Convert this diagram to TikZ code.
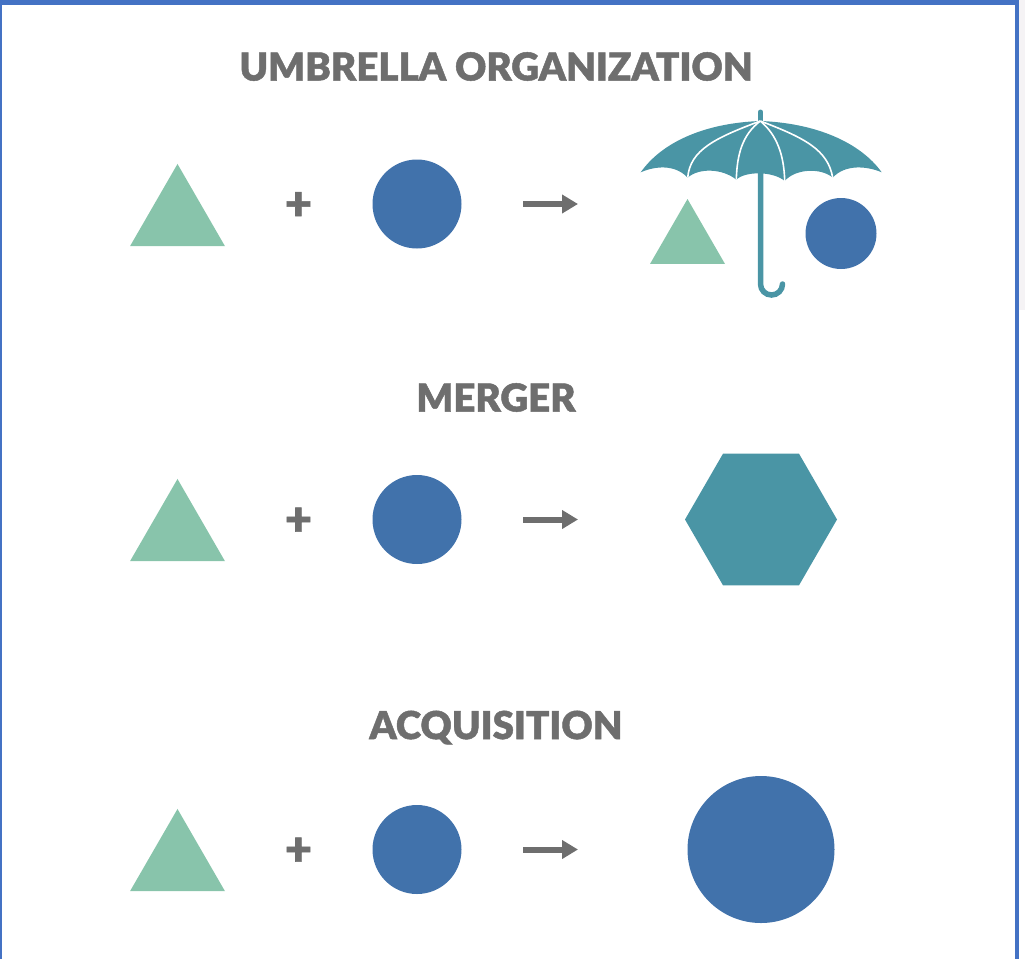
\documentclass[tikz,border=0pt]{standalone}
\usepackage{fontspec}
\setmainfont{Lato Black}[FakeBold=1.2]
\usetikzlibrary{shapes.geometric,arrows.meta}
\definecolor{triColor}{HTML}{88C4AB}
\definecolor{circColor}{HTML}{4172AB}
\definecolor{tealColor}{HTML}{4A95A5}
\definecolor{greyColor}{HTML}{6E6E6E}
\definecolor{frameColor}{HTML}{4472C4}
\definecolor{sideColor}{HTML}{F5F3F5}
\begin{document}
\begin{tikzpicture}[x=1pt,y=-1pt]
            \tikzstyle{tri}=[regular polygon,regular polygon sides=3,fill=triColor,inner sep=0pt,outer sep=0pt,minimum size=109.7pt]
            \tikzstyle{smalltri}=[tri,minimum size=86.6pt]
            \tikzstyle{circ}=[circle,fill=circColor,inner sep=0pt,outer sep=0pt,minimum size=89pt]
            \tikzstyle{hexa}=[regular polygon,regular polygon sides=6,fill=tealColor,inner sep=0pt,outer sep=0pt,minimum size=152pt]
            \tikzstyle{heading}=[text=greyColor,font=\fontsize{38.5}{38.5}\selectfont,inner sep=0pt]
            \tikzstyle{plus}=[text=greyColor,font=\fontsize{47}{47}\selectfont,inner sep=0pt]
            \tikzstyle{link}=[draw=greyColor,line width=6pt,-{Triangle[length=16pt,width=18pt]}]
            \useasboundingbox (0,0) rectangle (1025,959);
            % frame
            \fill[sideColor] (1019,0) rectangle (1025,310);
            \fill[frameColor] (0,0) rectangle (1019,5);
            \fill[frameColor] (0,0) rectangle (1.5,959);
            \fill[frameColor] (1015,0) rectangle (1019,959);
            % umbrella organization
            \node[heading] (titleA) at (496,66.5) {UMBRELLA ORGANIZATION};
            \node[tri] (triA) at (177.5,218.8) {};
            \node[plus] (plusA) at (298.5,206) {+};
            \node[circ] (circA) at (417,204) {};
            \coordinate (startA) at (523,204);
            \coordinate (endA) at (578,204);
            \draw[link] (startA) -- (endA);
            \draw[tealColor,line width=5pt,line cap=round] (760.5,112) -- (760.5,122);
            \draw[tealColor,line width=5.5pt,line cap=round] (760.5,170) -- (760.5,284) arc[start angle=180,end angle=0,radius=11];
            \fill[tealColor] (760.3,121) .. controls (705,123) and (662,142) .. (640.7,172.3)
                .. controls (655,166) and (675,164) .. (687.7,177.7)
                .. controls (698,168) and (722,168) .. (736.3,179.7)
                .. controls (745,171) and (773,171) .. (784.7,181)
                .. controls (796,168) and (822,168) .. (832.7,177.7)
                .. controls (845,164) and (867,166) .. (881.7,172.3)
                .. controls (860,142) and (815,123) .. (760.3,121) -- cycle;
            \draw[white,line width=1.6pt] (760.3,121) .. controls (715,138) and (690,150) .. (687.7,177.7);
            \draw[white,line width=1.6pt] (760.3,121) .. controls (742,135) and (737,155) .. (736.3,179.7);
            \draw[white,line width=1.6pt] (760.3,121) .. controls (777,135) and (784,155) .. (784.7,181);
            \draw[white,line width=1.6pt] (760.3,121) .. controls (805,138) and (828,150) .. (832.7,177.7);
            \node[smalltri] (triB) at (687.5,242.3) {};
            \node[circ,minimum size=71pt] (circB) at (841,233.5) {};
            % merger
            \node[heading] (titleC) at (496,397.5) {MERGER};
            \node[tri] (triC) at (177.5,533.8) {};
            \node[plus] (plusC) at (298.5,521.5) {+};
            \node[circ] (circC) at (417,519.5) {};
            \coordinate (startC) at (523,519.5);
            \coordinate (endC) at (578,519.5);
            \draw[link] (startC) -- (endC);
            \node[hexa] (hexC) at (761,519.5) {};
            % acquisition
            \node[heading] (titleD) at (496,727.5) {ACQUISITION};
            \node[tri] (triD) at (177.5,863.8) {};
            \node[plus] (plusD) at (298.5,851.5) {+};
            \node[circ] (circD) at (417,849.5) {};
            \coordinate (startD) at (523,849.5);
            \coordinate (endD) at (578,849.5);
            \draw[link] (startD) -- (endD);
            \node[circ,minimum size=147pt] (circE) at (761,849.5) {};
        \end{tikzpicture}
\end{document}
